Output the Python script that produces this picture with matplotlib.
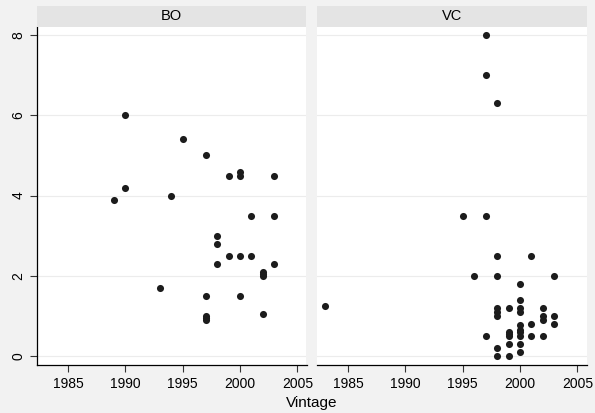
import matplotlib
matplotlib.use("Agg")
import matplotlib.pyplot as plt

plt.rcParams["font.family"] = ["Liberation Sans", "DejaVu Sans"]

# BO panel
bo_year = [1989, 1990, 1990, 1993, 1994, 1995, 1997, 1997, 1997, 1997, 1997,
           1998, 1998, 1998, 1999, 1999, 2000, 2000, 2000, 2000, 2001, 2001,
           2002, 2002, 2002, 2002, 2003, 2003, 2003]
bo_val = [3.9, 6.0, 4.2, 1.7, 4.0, 5.4, 5.0, 1.5, 1.0, 0.95, 0.9,
          3.0, 2.8, 2.3, 4.5, 2.5, 4.6, 4.5, 2.5, 1.5, 3.5, 2.5,
          2.1, 2.05, 2.0, 1.05, 4.5, 3.5, 2.3]

# VC panel
vc_year = [1983, 1995, 1996, 1997, 1997, 1997, 1997, 1998, 1998, 1998, 1998,
           1998, 1998, 1998, 1998, 1999, 1999, 1999, 1999, 1999, 1999,
           2000, 2000, 2000, 2000, 2000, 2000, 2000, 2000, 2000, 2000,
           2001, 2001, 2001, 2002, 2002, 2002, 2002, 2003, 2003, 2003]
vc_val = [1.25, 3.5, 2.0, 8.0, 7.0, 3.5, 0.5, 6.3, 2.5, 2.0, 1.1,
          1.0, 0.2, 0.0, 1.2, 0.6, 0.5, 0.3, 0.0, 1.2, 0.55,
          1.8, 1.4, 1.2, 1.1, 0.77, 0.6, 0.5, 0.3, 0.1, 0.65,
          2.5, 0.8, 0.5, 1.2, 1.0, 0.9, 0.5, 2.0, 1.0, 0.8]

panels = ["BO", "VC"]
xticks = [1985, 1990, 1995, 2000, 2005]
yticks = [0, 2, 4, 6, 8]

fig = plt.figure(figsize=(5.95, 4.13), dpi=100, facecolor="#f2f2f2")

lefts = [37 / 595, 317 / 595]
width = 269.5 / 595
bottom = 1 - 365 / 413
height = (365 - 27) / 413
strip_h = 21 / 413

data = [(bo_year, bo_val), (vc_year, vc_val)]
for i, (name, (xs, ys)) in enumerate(zip(panels, data)):
    ax = fig.add_axes([lefts[i], bottom, width, height])
    ax.set_facecolor("white")
    ax.scatter(xs, ys, s=26, color="#1c1c1c", linewidths=0, zorder=3)
    ax.set_xlim(1982.3, 2005.8)
    ax.set_ylim(-0.22, 8.2)
    ax.set_xticks(xticks)
    ax.set_yticks(yticks)
    for y in yticks:
        ax.axhline(y, color="#ececec", lw=0.8, zorder=1)
    for s in ["top", "right"]:
        ax.spines[s].set_visible(False)
    ax.spines["bottom"].set_color("#000000")
    ax.spines["bottom"].set_linewidth(0.9)
    ax.tick_params(axis="x", labelsize=10, length=5, width=0.8, color="#333333")
    if i == 0:
        ax.spines["left"].set_color("#000000")
        ax.spines["left"].set_linewidth(0.9)
        ax.tick_params(axis="y", labelsize=10, length=5, width=0.8,
                       color="#333333", labelrotation=90)
        for lbl in ax.get_yticklabels():
            lbl.set_va("center")
    else:
        ax.spines["left"].set_visible(False)
        ax.tick_params(axis="y", left=False, labelleft=False)

    sax = fig.add_axes([lefts[i], bottom + height, width, strip_h])
    sax.set_facecolor("#e4e4e4")
    sax.set_xticks([])
    sax.set_yticks([])
    for s in sax.spines.values():
        s.set_visible(False)
    sax.text(0.5, 0.5, name, ha="center", va="center", fontsize=10.5,
             transform=sax.transAxes)

fig.text((37 + 587) / 2 / 595, 1 - 403 / 413, "Vintage", ha="center",
         va="center", fontsize=11)

fig.savefig("out.png", dpi=100, facecolor=fig.get_facecolor())
